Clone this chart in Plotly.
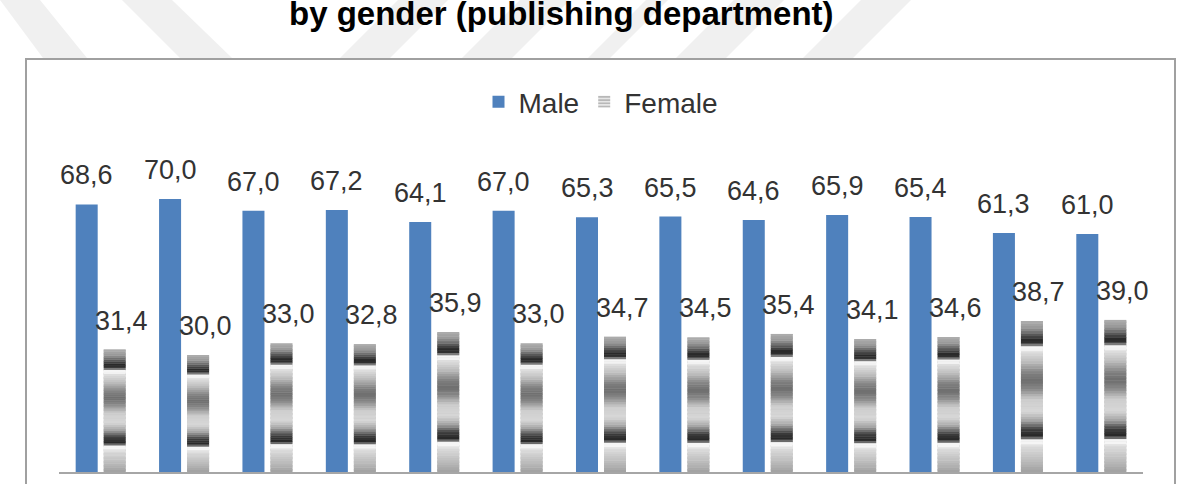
import numpy as np
import plotly.graph_objects as go

# ---------------- data ----------------
categories = ["1", "2", "3", "4", "5", "6", "7", "8", "9", "10", "11", "12", "13"]
male = [68.6, 70.0, 67.0, 67.2, 64.1, 67.0, 65.3, 65.5, 64.6, 65.9, 65.4, 61.3, 61.0]
female = [31.4, 30.0, 33.0, 32.8, 35.9, 33.0, 34.7, 34.5, 35.4, 34.1, 34.6, 38.7, 39.0]
series_names = ["Male", "Female"]
title_text = "by gender (publishing department)"

# ---------------- layout constants ----------------
W, H = 1186, 484
ML, MR, MT, MB = 59, 43, 120, 12
PW, PH = W - ML - MR, H - MT - MB
PX_PER_UNIT = 3.9
YMAX = PH / PX_PER_UNIT
FONT = "Liberation Sans, Arial, sans-serif"
MALE_COLOR = "#4F81BD"


def px_x(px):
    return (px - ML) / PW


def px_y(py):
    return (H - MB - py) / PH


# vertical gradient profile of the female bars (fraction from top, gray level)
PROFILE_T = [0.00, 0.05, 0.09, 0.13, 0.155, 0.165, 0.19, 0.20, 0.27, 0.35, 0.40, 0.45,
             0.52, 0.60, 0.66, 0.72, 0.77, 0.785, 0.81, 0.83, 0.92, 1.00]
PROFILE_G = [175, 150, 90, 35, 60, 245, 245, 225, 190, 125, 110, 135,
             205, 215, 165, 60, 35, 245, 245, 220, 190, 160]
N_SLICES = 60

fig = go.Figure()

fig.add_trace(go.Bar(
    x=categories, y=male, name=series_names[0], offsetgroup="m",
    marker=dict(color=MALE_COLOR, line=dict(width=0)), hoverinfo="x+y",
))
fig.add_trace(go.Bar(
    x=categories, y=female, name=series_names[1], offsetgroup="f",
    marker=dict(color="#d9d9d9", line=dict(width=0),
                pattern=dict(shape="-", fgcolor="#808080", bgcolor="#e6e6e6",
                             size=4, solidity=0.45)),
    hoverinfo="x+y",
))

fem = np.array(female)
for k in range(N_SLICES):
    # k = 0 is the bottom slice
    t_mid = 1.0 - (k + 0.5) / N_SLICES  # fraction from top
    g = int(round(np.interp(t_mid, PROFILE_T, PROFILE_G)))
    h = fem / N_SLICES
    hh = h * (1.0 if k == N_SLICES - 1 else 1.15)
    fig.add_trace(go.Bar(
        x=categories, y=hh, base=h * k, offsetgroup="f", showlegend=False,
        hoverinfo="skip", marker=dict(color=f"rgb({g},{g},{g})", line=dict(width=0)),
    ))

# value labels (x given as category index on the category axis)
def fmt(v):
    return f"{v:.1f}".replace(".", ",")

annotations = []
for i, v in enumerate(male):
    annotations.append(dict(x=i, y=v, xref="x", yref="y", text=fmt(v), showarrow=False,
                            xshift=-14, yshift=12, yanchor="bottom",
                            font=dict(family=FONT, size=27, color="#333333")))
for i, v in enumerate(female):
    annotations.append(dict(x=i, y=v, xref="x", yref="y", text=fmt(v), showarrow=False,
                            xshift=21, yshift=12, yanchor="bottom",
                            font=dict(family=FONT, size=27, color="#333333")))
annotations.append(dict(x=px_x(561), y=px_y(13), xref="paper", yref="paper",
                        text=title_text, showarrow=False, xanchor="center", yanchor="middle",
                        font=dict(family=FONT, size=33, color="#000000", weight="bold")))

# background watermark stripes (only visible above the chart box) + chart box
shapes = []
STRIPE = "#f0f0f0"
stripes_px = [
    [(0, 0), (40, 0), (87, 58), (43, 58)],
    [(122, 0), (172, 0), (232, 58), (180, 58)],
    [(340, 58), (390, 58), (448, 0), (398, 0)],
    [(462, 58), (512, 58), (570, 0), (520, 0)],
    [(588, 58), (610, 58), (668, 0), (646, 0)],
    [(676, 58), (726, 58), (784, 0), (734, 0)],
    [(803, 58), (853, 58), (911, 0), (861, 0)],
]
for poly in stripes_px:
    path = "M " + " L ".join(f"{px_x(a):.5f},{px_y(b):.5f}" for a, b in poly) + " Z"
    shapes.append(dict(type="path", path=path, xref="paper", yref="paper",
                       fillcolor=STRIPE, line=dict(width=0), layer="below"))
shapes.append(dict(type="rect", xref="paper", yref="paper",
                   x0=px_x(26), x1=px_x(1175), y0=px_y(500), y1=px_y(59),
                   fillcolor="white", line=dict(color="#a0a0a0", width=2), layer="below"))

fig.update_layout(
    width=W, height=H,
    margin=dict(l=ML, r=MR, t=MT, b=MB, pad=0),
    paper_bgcolor="white", plot_bgcolor="rgba(0,0,0,0)",
    barmode="group", bargap=0.328, bargroupgap=0.214,
    showlegend=True,
    legend=dict(orientation="h", x=0.5, xanchor="center", y=px_y(102), yanchor="middle",
                font=dict(family=FONT, size=28, color="#333333"),
                bgcolor="rgba(0,0,0,0)", traceorder="normal"),
    xaxis=dict(type="category", range=[-0.5, len(categories) - 0.5],
               showline=True, linecolor="#a6a6a6", linewidth=2,
               showticklabels=False, ticks="", showgrid=False, zeroline=False,
               fixedrange=True),
    yaxis=dict(range=[0, YMAX], visible=False, showgrid=False, zeroline=False, fixedrange=True),
    annotations=annotations,
    shapes=shapes,
    font=dict(family=FONT),
)

fig.write_html("out.html")
